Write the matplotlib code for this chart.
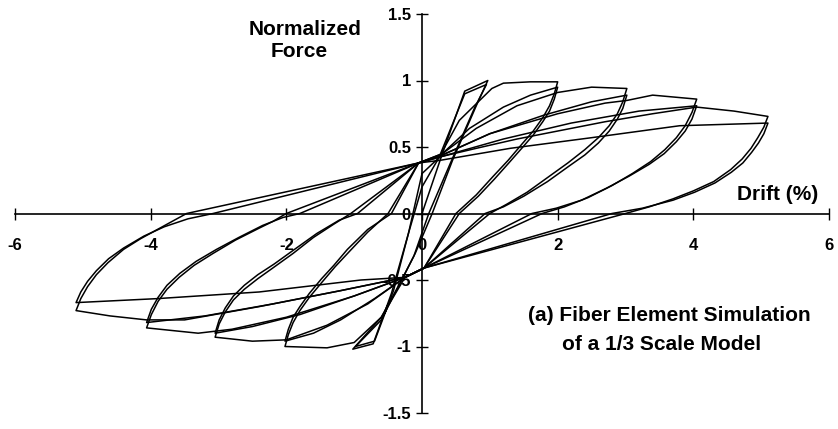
import matplotlib
matplotlib.use("Agg")
import matplotlib.pyplot as plt

plt.rcParams['font.family'] = ['Liberation Sans', 'DejaVu Sans']
plt.rcParams['font.weight'] = 'bold'
plt.rcParams['axes.unicode_minus'] = False

# hysteresis loops, two cycles per drift level
drift_a1_1 = [0.0, 0.3, 0.63, 0.97, 0.8, 0.45, 0.15, -0.1, -0.3, -0.6, -1.02, -0.72, -0.45, -0.2, 0.0, 0.25]
force_a1_1 = [0.0, 0.45, 0.92, 1.0, 0.81, 0.4, 0.0, -0.3, -0.5, -0.78, -1.02, -0.98, -0.6, -0.15, 0.2, 0.42]
drift_a1_2 = [0.25, 0.63, 0.95, 0.78, 0.42, 0.1, -0.12, -0.3, -0.6, -0.98, -0.7, -0.42, -0.2, 0.0]
force_a1_2 = [0.42, 0.9, 0.97, 0.8, 0.38, 0.0, -0.32, -0.5, -0.8, -1.0, -0.96, -0.58, -0.15, 0.3]

drift_a2_1 = [0.0, 0.25, 0.55, 1.03, 1.2, 1.6, 2.0,
              1.95, 1.88, 1.78, 1.64, 1.47, 1.27, 1.05, 0.8, 0.5, 0.03,
              -0.25, -0.6, -1.0, -1.4, -2.02,
              -1.97, -1.9, -1.8, -1.66, -1.48, -1.28, -1.06, -0.8, -0.5, -0.05]
force_a2_1 = [0.3, 0.42, 0.7, 0.94, 0.98, 0.99, 0.99,
              0.9, 0.81, 0.72, 0.62, 0.52, 0.4, 0.28, 0.14, 0.0, -0.41,
              -0.48, -0.78, -0.97, -1.01, -1.0,
              -0.91, -0.82, -0.73, -0.63, -0.52, -0.4, -0.28, -0.14, 0.0, 0.38]
drift_a2_2 = [-0.05, 0.3, 0.7, 1.2, 1.6, 2.0,
              1.95, 1.88, 1.78, 1.64, 1.47, 1.28, 1.07, 0.83, 0.55, 0.03,
              -0.25, -0.7, -1.2, -1.6, -2.02,
              -1.97, -1.9, -1.8, -1.66, -1.48, -1.3, -1.1, -0.8, -0.45, -0.05]
force_a2_2 = [0.38, 0.45, 0.64, 0.8, 0.89, 0.95,
              0.86, 0.77, 0.69, 0.59, 0.49, 0.38, 0.26, 0.13, 0.0, -0.41,
              -0.48, -0.64, -0.8, -0.9, -0.96,
              -0.87, -0.78, -0.7, -0.6, -0.49, -0.39, -0.27, -0.12, 0.0, 0.38]

drift_a3_1 = [-0.05, 0.3, 0.8, 1.4, 2.0, 2.5, 3.02,
              2.96, 2.88, 2.76, 2.6, 2.4, 2.15, 1.85, 1.55, 1.25, 1.0, 0.03,
              -0.25, -0.8, -1.4, -2.0, -2.5, -3.05,
              -2.99, -2.9, -2.78, -2.62, -2.42, -2.2, -1.9, -1.6, -1.3, -1.05, -0.05]
force_a3_1 = [0.38, 0.45, 0.64, 0.81, 0.91, 0.95, 0.94,
              0.84, 0.75, 0.66, 0.57, 0.48, 0.38, 0.27, 0.16, 0.07, 0.0, -0.41,
              -0.48, -0.68, -0.84, -0.95, -0.96, -0.93,
              -0.83, -0.74, -0.65, -0.57, -0.49, -0.41, -0.3, -0.18, -0.08, 0.0, 0.38]
drift_a3_2 = [-0.05, 0.3, 1.0, 1.8, 2.5, 3.02,
              2.96, 2.88, 2.76, 2.6, 2.4, 2.15, 1.85, 1.5, 1.2, 0.93, 0.03,
              -0.25, -1.0, -1.8, -2.5, -3.05,
              -2.99, -2.9, -2.78, -2.62, -2.42, -2.18, -1.88, -1.55, -1.22, -0.95, -0.05]
force_a3_2 = [0.38, 0.44, 0.6, 0.74, 0.84, 0.89,
              0.79, 0.71, 0.62, 0.53, 0.44, 0.35, 0.24, 0.13, 0.05, 0.0, -0.41,
              -0.48, -0.62, -0.76, -0.85, -0.9,
              -0.8, -0.71, -0.62, -0.54, -0.46, -0.38, -0.27, -0.15, -0.05, 0.0, 0.38]

drift_a4_1 = [-0.05, 0.3, 1.0, 2.0, 2.7, 3.02, 3.4, 4.05,
              3.98, 3.88, 3.75, 3.58, 3.37, 3.1, 2.8, 2.45, 2.1, 1.77, 0.03,
              -0.25, -1.0, -2.0, -2.8, -3.3, -4.06,
              -3.99, -3.89, -3.76, -3.58, -3.36, -3.08, -2.75, -2.4, -2.2, -2.0, -0.05]
force_a4_1 = [0.38, 0.44, 0.6, 0.75, 0.83, 0.85, 0.89, 0.86,
              0.76, 0.66, 0.57, 0.48, 0.39, 0.3, 0.21, 0.12, 0.05, 0.0, -0.41,
              -0.48, -0.62, -0.78, -0.87, -0.9, -0.86,
              -0.76, -0.66, -0.57, -0.48, -0.39, -0.3, -0.2, -0.11, -0.06, 0.0, 0.38]
drift_a4_2 = [-0.05, 0.3, 1.2, 2.2, 3.2, 4.05,
              3.98, 3.88, 3.75, 3.57, 3.35, 3.05, 2.72, 2.35, 1.98, 1.62, 0.03,
              -0.25, -1.2, -2.2, -3.2, -4.06,
              -3.99, -3.89, -3.76, -3.57, -3.33, -3.03, -2.7, -2.35, -2.05, -1.8, -0.05]
force_a4_2 = [0.38, 0.43, 0.56, 0.68, 0.77, 0.81,
              0.71, 0.62, 0.54, 0.45, 0.37, 0.28, 0.19, 0.1, 0.04, 0.0, -0.41,
              -0.48, -0.58, -0.68, -0.77, -0.82,
              -0.72, -0.63, -0.54, -0.45, -0.36, -0.27, -0.18, -0.09, -0.03, 0.0, 0.38]

drift_a5_1 = [-0.05, 0.3, 0.8, 1.4, 2.0, 2.7, 3.4, 4.05, 4.6, 5.1,
              5.04, 4.95, 4.85, 4.72, 4.55, 4.3, 4.0, 3.7, 3.35, 3.0, 0.03,
              -0.25, -1.2, -2.4, -3.5, -4.06, -4.6, -5.1,
              -5.03, -4.93, -4.8, -4.63, -4.4, -4.15, -3.9, -3.65, -3.47, -0.05]
force_a5_1 = [0.38, 0.43, 0.49, 0.56, 0.62, 0.69, 0.75, 0.8, 0.77, 0.73,
              0.65, 0.57, 0.49, 0.41, 0.33, 0.24, 0.17, 0.11, 0.05, 0.0, -0.41,
              -0.48, -0.58, -0.7, -0.8, -0.8, -0.77, -0.73,
              -0.64, -0.55, -0.46, -0.37, -0.27, -0.19, -0.12, -0.05, 0.0, 0.38]
drift_a5_2 = [-0.05, 0.27, 1.3, 2.5, 3.8, 5.1,
              5.04, 4.96, 4.86, 4.73, 4.56, 4.32, 4.02, 3.7, 3.25, 2.8, 0.03,
              -0.25, -0.9, -2.4, -3.9, -5.1,
              -5.03, -4.93, -4.8, -4.62, -4.4, -4.1, -3.8, -3.45, -3.08, -0.05]
force_a5_2 = [0.38, 0.4, 0.49, 0.57, 0.66, 0.68,
              0.6, 0.53, 0.46, 0.38, 0.31, 0.23, 0.16, 0.1, 0.04, 0.0, -0.41,
              -0.48, -0.5, -0.59, -0.64, -0.67,
              -0.59, -0.51, -0.43, -0.34, -0.26, -0.17, -0.1, -0.04, 0.0, 0.38]

x_ticks = [-6, -4, -2, 0, 2, 4, 6]
x_tick_labels = ['-6', '-4', '-2', '0', '2', '4', '6']
y_ticks = [-1.5, -1, -0.5, 0, 0.5, 1, 1.5]
y_tick_labels = ['-1.5', '-1', '-0.5', '0', '0.5', '1', '1.5']

cycles = [
    (drift_a1_1, force_a1_1), (drift_a1_2, force_a1_2),
    (drift_a2_1, force_a2_1), (drift_a2_2, force_a2_2),
    (drift_a3_1, force_a3_1), (drift_a3_2, force_a3_2),
    (drift_a4_1, force_a4_1), (drift_a4_2, force_a4_2),
    (drift_a5_1, force_a5_1), (drift_a5_2, force_a5_2),
]

fig = plt.figure(figsize=(8.38, 4.29), dpi=100)
ax = fig.add_axes([15 / 838, 16 / 429, 814 / 838, 399 / 429])

for d, f in cycles:
    ax.plot(d, f, color='black', lw=1.1, solid_joinstyle='round')

ax.set_xlim(-6, 6)
ax.set_ylim(-1.5, 1.5)
ax.set_axisbelow(True)
ax.patch.set_visible(False)

# axes cross at the origin
ax.spines['left'].set_position(('data', 0))
ax.spines['bottom'].set_position(('data', 0))
ax.spines['top'].set_visible(False)
ax.spines['right'].set_visible(False)
for s in ('left', 'bottom'):
    ax.spines[s].set_linewidth(1.2)

ax.set_xticks(x_ticks)
ax.set_xticklabels(x_tick_labels)
ax.set_yticks(y_ticks)
ax.set_yticklabels(y_tick_labels)
ax.tick_params(axis='both', direction='inout', length=8, width=1, labelsize=12)
ax.tick_params(axis='x', pad=14)
ax.tick_params(axis='y', pad=4)

ax.text(-1.73, 1.38, 'Normalized', ha='center', va='center', fontsize=15)
ax.text(-1.81, 1.22, 'Force', ha='center', va='center', fontsize=15)
ax.text(5.24, 0.14, 'Drift (%)', ha='center', va='center', fontsize=15)
ax.text(3.65, -0.765, '(a) Fiber Element Simulation', ha='center', va='center', fontsize=15)
ax.text(3.53, -0.985, 'of a 1/3 Scale Model', ha='center', va='center', fontsize=15)

fig.savefig('out.png', dpi=100)
